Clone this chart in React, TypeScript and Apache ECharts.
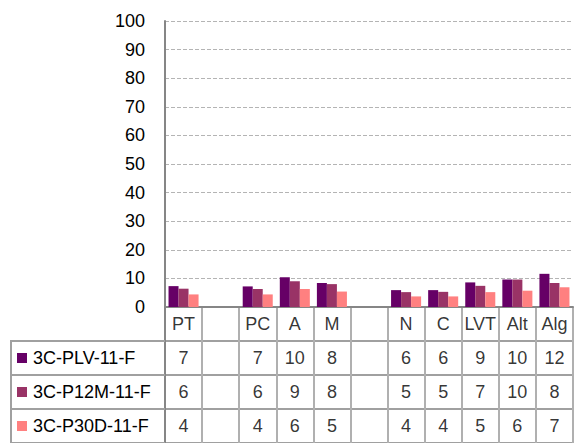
import React, { useEffect, useRef } from "react";
import * as echarts from "echarts";

const categories = ["PT", "", "PC", "A", "M", "", "N", "C", "LVT", "Alt", "Alg"];
const seriesNames = ["3C-PLV-11-F", "3C-P12M-11-F", "3C-P30D-11-F"];
const seriesColors = ["#660066", "#993366", "#FF8080"];

// bar heights
const plvValues = [7.3, null, 7.2, 10.4, 8.4, null, 5.9, 5.9, 8.6, 9.6, 11.6];
const p12mValues = [6.4, null, 6.3, 9.0, 8.0, null, 5.2, 5.3, 7.4, 9.6, 8.4];
const p30dValues = [4.4, null, 4.4, 6.3, 5.4, null, 3.7, 3.7, 5.2, 5.7, 6.9];

// numbers printed in the data table
const plvTable = [7, null, 7, 10, 8, null, 6, 6, 9, 10, 12];
const p12mTable = [6, null, 6, 9, 8, null, 5, 5, 7, 10, 8];
const p30dTable = [4, null, 4, 6, 5, null, 4, 4, 5, 6, 7];

const yMin = 0;
const yMax = 100;
const yInterval = 10;

const FONT = "'Liberation Sans', Arial, sans-serif";

export default function App() {
  const ref = useRef<HTMLDivElement>(null);

  useEffect(() => {
    if (!ref.current) return;
    const chart = echarts.init(ref.current, null, { renderer: "svg" });

    const barSeriesValues = [plvValues, p12mValues, p30dValues];
    const tableRows = [plvTable, p12mTable, p30dTable];

    const tableData: any[] = [];
    categories.forEach((c, i) => {
      if (c) tableData.push({ value: [i, 0], text: c });
    });
    tableRows.forEach((row, r) => {
      row.forEach((v, i) => {
        if (v !== null) tableData.push({ value: [i, r + 1], text: String(v) });
      });
    });

    const rich: any = {
      t: { fontSize: 18, fontFamily: FONT, color: "#000", padding: [0, 0, 0, 6] },
    };
    seriesColors.forEach((col, k) => {
      rich["s" + (k + 1)] = { width: 10, height: 10, backgroundColor: col };
    });

    const tableLine = { color: "#a0a0a0", width: 2 };

    const option: any = {
      animation: false,
      backgroundColor: "#fff",
      grid: [
        { left: 165, top: 21, width: 408, height: 286 },
        { left: 165, top: 307, width: 408, height: 138 },
      ],
      xAxis: [
        {
          type: "category",
          gridIndex: 0,
          data: categories,
          axisLine: { show: true, lineStyle: { color: "#868686", width: 2 } },
          axisTick: { show: false },
          axisLabel: { show: false },
          splitLine: { show: false },
        },
        {
          type: "category",
          gridIndex: 1,
          data: categories,
          axisLine: { show: false },
          axisTick: { show: false },
          axisLabel: { show: false },
          splitLine: { show: true, interval: 0, lineStyle: { color: "#b0b0b0", width: 2 } },
        },
      ],
      yAxis: [
        {
          type: "value",
          gridIndex: 0,
          min: yMin,
          max: yMax,
          interval: yInterval,
          axisLine: { show: true, lineStyle: { color: "#868686", width: 2 } },
          axisTick: { show: false },
          axisLabel: { fontSize: 18, fontFamily: FONT, color: "#000", margin: 20 },
          splitLine: { show: true, lineStyle: { color: "#b4b4b4", width: 1, type: "dashed" } },
        },
        {
          type: "category",
          gridIndex: 1,
          inverse: true,
          data: ["", ...seriesNames],
          axisLine: { show: true, lineStyle: { color: "#868686", width: 2 } },
          axisTick: {
            show: true,
            length: 155,
            interval: (i: number) => i !== 0,
            lineStyle: tableLine,
          },
          axisLabel: {
            interval: 0,
            align: "left",
            margin: 148,
            formatter: (v: string, i: number) => (i === 0 ? "" : `{s${i}|}{t|${v}}`),
            rich,
          },
          splitLine: { show: true, interval: 0, lineStyle: tableLine },
        },
      ],
      graphic: [
        {
          type: "line",
          shape: { x1: 11, y1: 341.5, x2: 11, y2: 445 },
          style: { stroke: "#a0a0a0", lineWidth: 2 },
          silent: true,
        },
      ],
      series: [
        ...barSeriesValues.map((vals, k) => ({
          type: "bar",
          name: seriesNames[k],
          xAxisIndex: 0,
          yAxisIndex: 0,
          data: vals,
          barGap: "0%",
          barCategoryGap: "19%",
          itemStyle: { color: seriesColors[k] },
          silent: true,
        })),
        {
          type: "scatter",
          xAxisIndex: 1,
          yAxisIndex: 1,
          symbolSize: 1,
          itemStyle: { color: "rgba(0,0,0,0)" },
          silent: true,
          data: tableData,
          label: {
            show: true,
            position: "inside",
            fontSize: 18,
            fontFamily: FONT,
            color: "#000",
            formatter: (p: any) => p.data.text,
          },
        },
      ],
    };

    chart.setOption(option);
    return () => chart.dispose();
  }, []);

  return (
    <div
      ref={ref}
      style={{ position: "fixed", left: 0, top: 0, width: 575, height: 443 }}
    />
  );
}
